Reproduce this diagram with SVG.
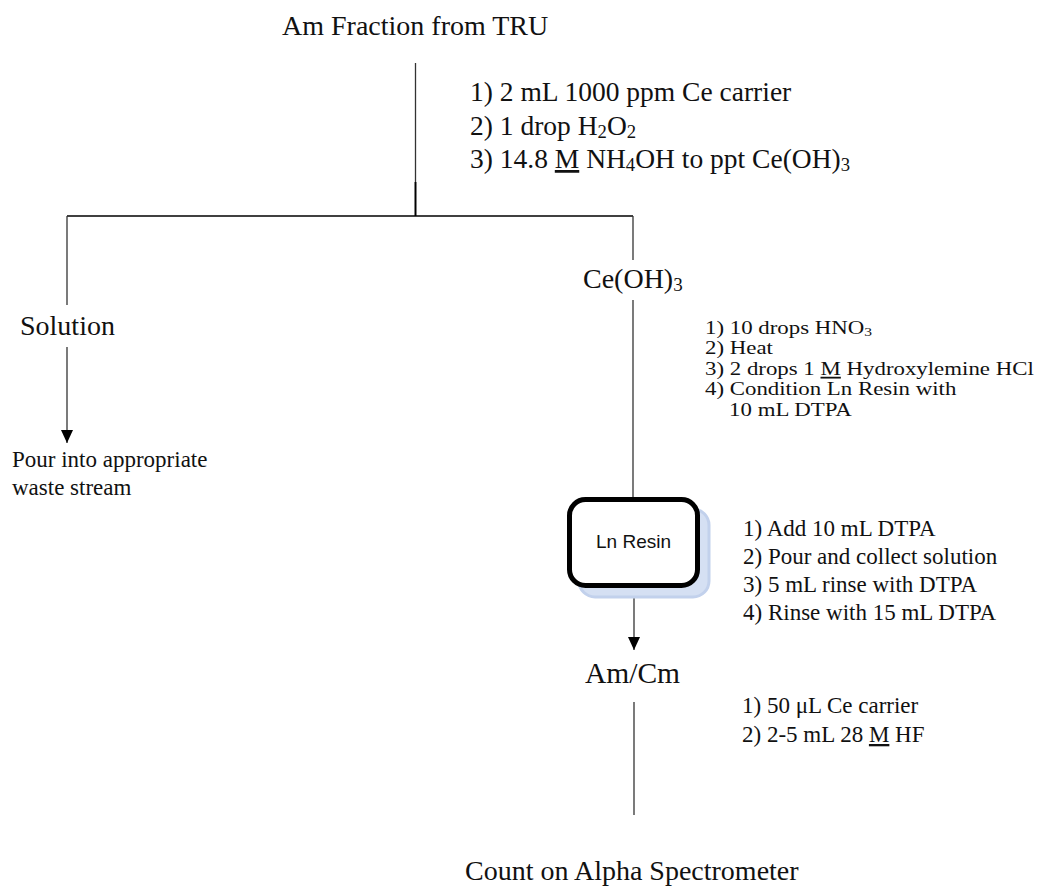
<svg xmlns="http://www.w3.org/2000/svg" width="1043" height="888" viewBox="0 0 1043 888">
<defs>
<style>
text{font-family:"Liberation Serif","Times New Roman",serif;fill:#111;}
.node{font-size:28px;}
.s1{font-size:27.5px;}
.s2{font-size:18px;}
.s3{font-size:23px;}
.ln{stroke:#333;stroke-width:1.3;fill:none;}
.bk{stroke:#000;stroke-width:2;fill:none;}
.sub{font-size:0.68em;}
</style>
<marker id="arr" markerWidth="14" markerHeight="12" refX="13" refY="6" orient="auto" markerUnits="userSpaceOnUse" viewBox="0 0 14 12">
<path d="M0,0 L13,6 L0,12 Z" fill="#000"/>
</marker>
</defs>
<rect width="1043" height="888" fill="#fff"/>
<g id="connectors">
<line class="ln" x1="415.5" y1="63" x2="415.5" y2="182"/>
<line class="bk" x1="415.5" y1="182" x2="415.5" y2="216"/>
<line class="bk" x1="67" y1="216" x2="633" y2="216" style="stroke-width:1.6"/>
<line class="ln" x1="67" y1="216" x2="67" y2="305"/>
<line class="ln" x1="633" y1="216" x2="633" y2="260"/>
<line class="ln" x1="633" y1="300" x2="633" y2="497"/>
<line class="ln" x1="67" y1="347" x2="67" y2="443" marker-end="url(#arr)"/>
<line class="ln" x1="634" y1="588" x2="634" y2="650" marker-end="url(#arr)"/>
<line class="ln" x1="634" y1="702" x2="634" y2="815"/>
</g>
<g id="node-am-fraction"><text class="node" x="282" y="35">Am Fraction from TRU</text></g>
<g id="steps-1">
<text class="s1" x="470" y="101">1) 2 mL 1000 ppm Ce carrier</text>
<text class="s1" x="470" y="135">2) 1 drop H<tspan class="sub" dy="3">2</tspan><tspan dy="-3">O</tspan><tspan class="sub" dy="3">2</tspan></text>
<text class="s1" x="470" y="168">3) 14.8 <tspan text-decoration="underline">M</tspan> NH<tspan class="sub" dy="3">4</tspan><tspan dy="-3">OH to ppt Ce(OH)</tspan><tspan class="sub" dy="3">3</tspan></text>
</g>
<g id="node-ceoh3"><text class="node" x="583" y="288">Ce(OH)<tspan class="sub" dy="3">3</tspan></text></g>
<g id="node-solution"><text class="node" x="20" y="335">Solution</text></g>
<g id="node-waste">
<text class="s3" x="12" y="467">Pour into appropriate</text>
<text class="s3" x="12" y="495">waste stream</text>
</g>
<g id="steps-2" transform="translate(705,0) scale(1.27,1)">
<text class="s2" x="0" y="334">1) 10 drops HNO<tspan class="sub" dy="2">3</tspan></text>
<text class="s2" x="0" y="354.5">2) Heat</text>
<text class="s2" x="0" y="375">3) 2 drops 1 <tspan text-decoration="underline">M</tspan> Hydroxylemine HCl</text>
<text class="s2" x="0" y="395.5">4) Condition Ln Resin with</text>
<text class="s2" x="19" y="416">10 mL DTPA</text>
</g>
<g id="node-ln-resin">
<rect x="579" y="509" width="130" height="88" rx="16" fill="#d5e0f3" stroke="#c2d1ec" stroke-width="3"/>
<rect x="569.5" y="499.5" width="128" height="86" rx="16" fill="#fff" stroke="#000" stroke-width="5"/>
<text x="633.5" y="548" text-anchor="middle" style="font-family:'Liberation Sans',Arial,sans-serif;font-size:19px">Ln Resin</text>
</g>
<g id="steps-3">
<text class="s3" x="743" y="536">1) Add 10 mL DTPA</text>
<text class="s3" x="743" y="564">2) Pour and collect solution</text>
<text class="s3" x="743" y="592">3) 5 mL rinse with DTPA</text>
<text class="s3" x="743" y="620">4) Rinse with 15 mL DTPA</text>
</g>
<g id="node-amcm"><text class="node" x="585" y="683" style="font-size:29.5px">Am/Cm</text></g>
<g id="steps-4">
<text class="s3" x="742" y="713">1) 50 μL Ce carrier</text>
<text class="s3" x="742" y="742">2) 2-5 mL 28 <tspan text-decoration="underline">M</tspan> HF</text>
</g>
<g id="node-count"><text class="node" x="465" y="880">Count on Alpha Spectrometer</text></g>
</svg>
